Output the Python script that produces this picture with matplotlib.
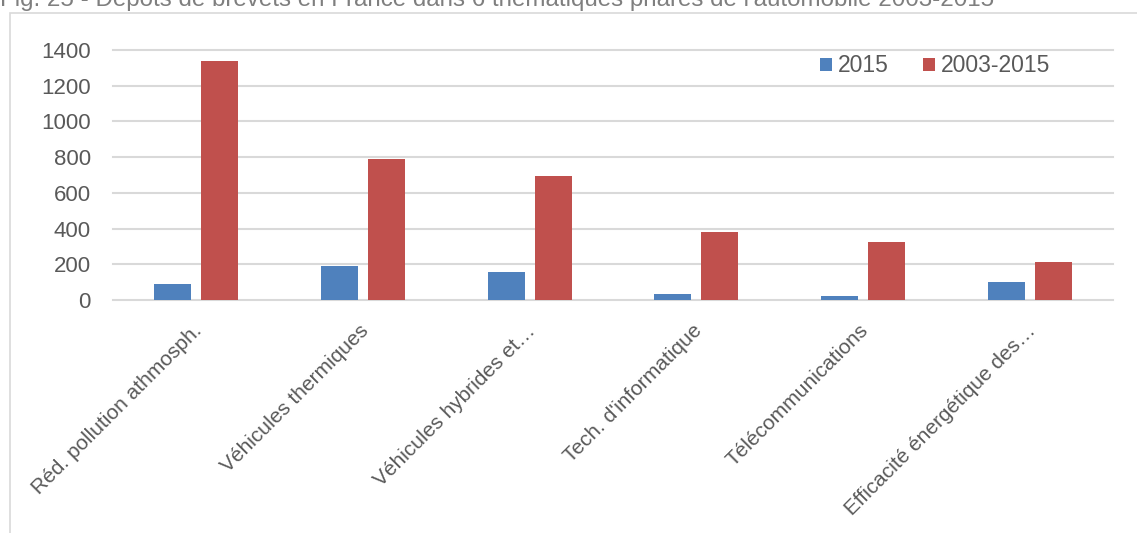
import matplotlib
matplotlib.use("Agg")
import matplotlib.pyplot as plt
from matplotlib.patches import Rectangle
from matplotlib import font_manager as fm
import matplotlib.transforms as mtransforms

categories = ["Réd. pollution athmosph.", "Véhicules thermiques", "Véhicules hybrides et…",
              "Tech. d'informatique", "Télécommunications", "Efficacité énergétique des…"]
series_names = ["2015", "2003-2015"]
values_2015 = [90, 192, 155, 32, 21, 101]
values_2003_2015 = [1338, 790, 694, 381, 323, 211]
yticks = [0, 200, 400, 600, 800, 1000, 1200, 1400]
title = "Fig. 25 - Dépôts de brevets en France dans 6 thématiques phares de l'automobile 2003-2015"

names = {f.name for f in fm.fontManager.ttflist}
base_font = "Liberation Sans" if "Liberation Sans" in names else "DejaVu Sans"
narrow_font = "Liberation Sans Narrow" if "Liberation Sans Narrow" in names else base_font
plt.rcParams["font.family"] = [base_font, "DejaVu Sans"]

W, H = 1137, 533
fig = plt.figure(figsize=(W / 100, H / 100), dpi=100)
fig.patch.set_facecolor("white")

# chart border
fig.patches.append(Rectangle((10 / W, -0.2), 1.5, 1 - 13 / H + 0.2, transform=fig.transFigure,
                             fill=False, edgecolor="#d9d9d9", linewidth=1.2))

# title (top cut off, as in the reference)
fig.text(0, 1 - 6 / H, title, fontsize=19.5 if narrow_font != base_font else 17.4,
         family=[narrow_font, "DejaVu Sans"], color="#7f7f7f", va="baseline", ha="left")

ax = fig.add_axes([113 / W, (H - 300) / H, 1000 / W, 250 / H])
ax.set_xlim(-0.5, len(categories) - 0.5)
ax.set_ylim(0, 1400)
for s in ax.spines.values():
    s.set_visible(False)
for t in yticks:
    ax.axhline(t, color="#d9d9d9", linewidth=1.5, zorder=0, clip_on=False)

x = list(range(len(categories)))
w = 0.222
blue, red = "#4f81bd", "#c0504d"
ax.bar([i - 0.141 for i in x], values_2015, width=w, color=blue, label=series_names[0], zorder=2)
ax.bar([i + 0.141 for i in x], values_2003_2015, width=w, color=red, label=series_names[1], zorder=2)

ax.set_yticks(yticks)
ax.set_yticklabels([str(t) for t in yticks], fontsize=16, color="#595959")
ax.tick_params(axis="y", length=0, pad=16)
ax.set_xticks([])

offset = mtransforms.ScaledTranslation(-4 / 100, -21 / 100, fig.dpi_scale_trans)
for i, c in enumerate(categories):
    ax.text(i, 0, c, transform=ax.transData + offset, rotation=45, rotation_mode="anchor",
            ha="right", va="top", fontsize=15, color="#595959")

leg = ax.legend(loc="center left", bbox_to_anchor=(820 / W, 1 - 66 / H), bbox_transform=fig.transFigure,
                ncol=2, frameon=False, fontsize=16.5, handlelength=0.52, handleheight=0.52,
                handletextpad=0.25, columnspacing=1.5, borderpad=0, borderaxespad=0)
for t in leg.get_texts():
    t.set_color("#595959")

fig.savefig("out.png", dpi=100, facecolor="white")
